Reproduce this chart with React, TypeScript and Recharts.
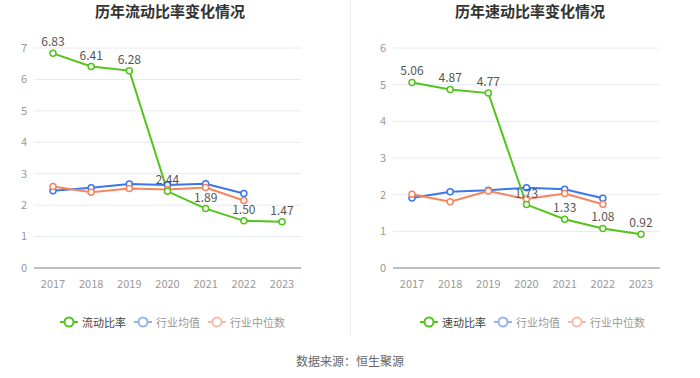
import { LineChart, Line, XAxis, YAxis, CartesianGrid, LabelList } from "recharts";

const years = ["2017", "2018", "2019", "2020", "2021", "2022", "2023"];

// 流动比率
const currentRatio = [6.83, 6.41, 6.28, 2.44, 1.89, 1.5, 1.47];
const currentIndustryAvg = [2.46, 2.55, 2.67, 2.64, 2.68, 2.37, null];
const currentIndustryMedian = [2.59, 2.41, 2.53, 2.5, 2.56, 2.15, null];
const currentTicks = [0, 1, 2, 3, 4, 5, 6, 7];

// 速动比率
const quickRatio = [5.06, 4.87, 4.77, 1.73, 1.33, 1.08, 0.92];
const quickIndustryAvg = [1.91, 2.08, 2.12, 2.19, 2.15, 1.9, null];
const quickIndustryMedian = [2.01, 1.81, 2.1, 1.88, 2.03, 1.74, null];
const quickTicks = [0, 1, 2, 3, 4, 5, 6];

const GREEN = "#52c41a";
const BLUE = "#3b78e7";
const ORANGE = "#f7845e";
const FONT = '"Noto Sans CJK SC", "Noto Sans", sans-serif';

type PanelProps = {
  title: string;
  main: number[];
  avg: (number | null)[];
  median: (number | null)[];
  ticks: number[];
  marginLeft: number;
  marginRight: number;
  titleX: number;
};

function Legend3({ name, left }: { name: string; left: number }) {
  const items = [
    { label: name, color: GREEN, text: "#444", op: 1 },
    { label: "行业均值", color: BLUE, text: "#999", op: 0.55 },
    { label: "行业中位数", color: ORANGE, text: "#999", op: 0.55 },
  ];
  return (
    <div
      style={{
        position: "absolute",
        top: 314,
        left,
        display: "flex",
        gap: 8,
        fontSize: 11,
        fontFamily: FONT,
        alignItems: "center",
      }}
    >
      {items.map((it) => (
        <div key={it.label} style={{ display: "flex", alignItems: "center", gap: 4 }}>
          <svg width={18} height={14} style={{ opacity: it.op }}>
            <line x1={0} y1={7} x2={18} y2={7} stroke={it.color} strokeWidth={2} />
            <circle cx={9} cy={7} r={4.5} fill="#fff" stroke={it.color} strokeWidth={2} />
          </svg>
          <span style={{ color: it.text }}>{it.label}</span>
        </div>
      ))}
    </div>
  );
}

function Panel({ title, main, avg, median, ticks, marginLeft, marginRight, titleX }: PanelProps) {
  const data = years.map((y, i) => ({
    year: y,
    main: main[i],
    avg: avg[i],
    median: median[i],
  }));
  const max = ticks[ticks.length - 1];
  return (
    <LineChart
      width={350}
      height={300}
      data={data}
      margin={{ top: 48, right: marginRight, bottom: 0, left: marginLeft }}
    >
      <text
        x={titleX}
        y={17}
        textAnchor="middle"
        fontSize={15}
        fontWeight={700}
        fill="#333"
        fontFamily={FONT}
      >
        {title}
      </text>
      <CartesianGrid vertical={false} stroke="#e6eaf4" />
      <XAxis
        dataKey="year"
        padding={{ left: 19, right: 19 }}
        height={32}
        tickLine={false}
        axisLine={{ stroke: "#888" }}
        tick={{ fontSize: 11, fill: "#999", fontFamily: FONT }}
        tickMargin={6}
      />
      <YAxis
        width={30}
        domain={[0, max]}
        ticks={ticks}
        axisLine={false}
        tickLine={false}
        tick={{ fontSize: 11, fill: "#999", fontFamily: FONT }}
        tickMargin={1}
      />
      <Line
        dataKey="avg"
        stroke={BLUE}
        strokeWidth={2}
        dot={{ r: 3, fill: "#fff", stroke: BLUE, strokeWidth: 1.5 }}
        isAnimationActive={false}
      />
      <Line
        dataKey="median"
        stroke={ORANGE}
        strokeWidth={2}
        dot={{ r: 3, fill: "#fff", stroke: ORANGE, strokeWidth: 1.5 }}
        isAnimationActive={false}
      />
      <Line
        dataKey="main"
        stroke={GREEN}
        strokeWidth={2}
        dot={{ r: 3, fill: "#fff", stroke: GREEN, strokeWidth: 1.5 }}
        isAnimationActive={false}
      >
        <LabelList
          dataKey="main"
          position="top"
          offset={7}
          fontSize={12}
          fill="#555"
          fontFamily={FONT}
          formatter={(v: any) => Number(v).toFixed(2)}
        />
      </Line>
    </LineChart>
  );
}

export default function App() {
  return (
    <div
      style={{
        position: "absolute",
        left: 0,
        top: 0,
        width: 700,
        height: 378,
        background: "#fff",
        fontFamily: FONT,
      }}
    >
      <div style={{ position: "absolute", left: 0, top: 0 }}>
        <Panel
          title="历年流动比率变化情况"
          main={currentRatio}
          avg={currentIndustryAvg}
          median={currentIndustryMedian}
          ticks={currentTicks}
          marginLeft={4}
          marginRight={49}
          titleX={170}
        />
      </div>
      <div style={{ position: "absolute", left: 350, top: 0 }}>
        <Panel
          title="历年速动比率变化情况"
          main={quickRatio}
          avg={quickIndustryAvg}
          median={quickIndustryMedian}
          ticks={quickTicks}
          marginLeft={13}
          marginRight={40}
          titleX={180}
        />
      </div>
      <div
        style={{
          position: "absolute",
          left: 350,
          top: 0,
          width: 1,
          height: 336,
          background: "#eeeeee",
        }}
      />
      <Legend3 name="流动比率" left={60} />
      <Legend3 name="速动比率" left={420} />
      <div
        style={{
          position: "absolute",
          top: 352,
          left: 0,
          width: 700,
          textAlign: "center",
          fontSize: 12,
          color: "#666",
        }}
      >
        数据来源：恒生聚源
      </div>
    </div>
  );
}
